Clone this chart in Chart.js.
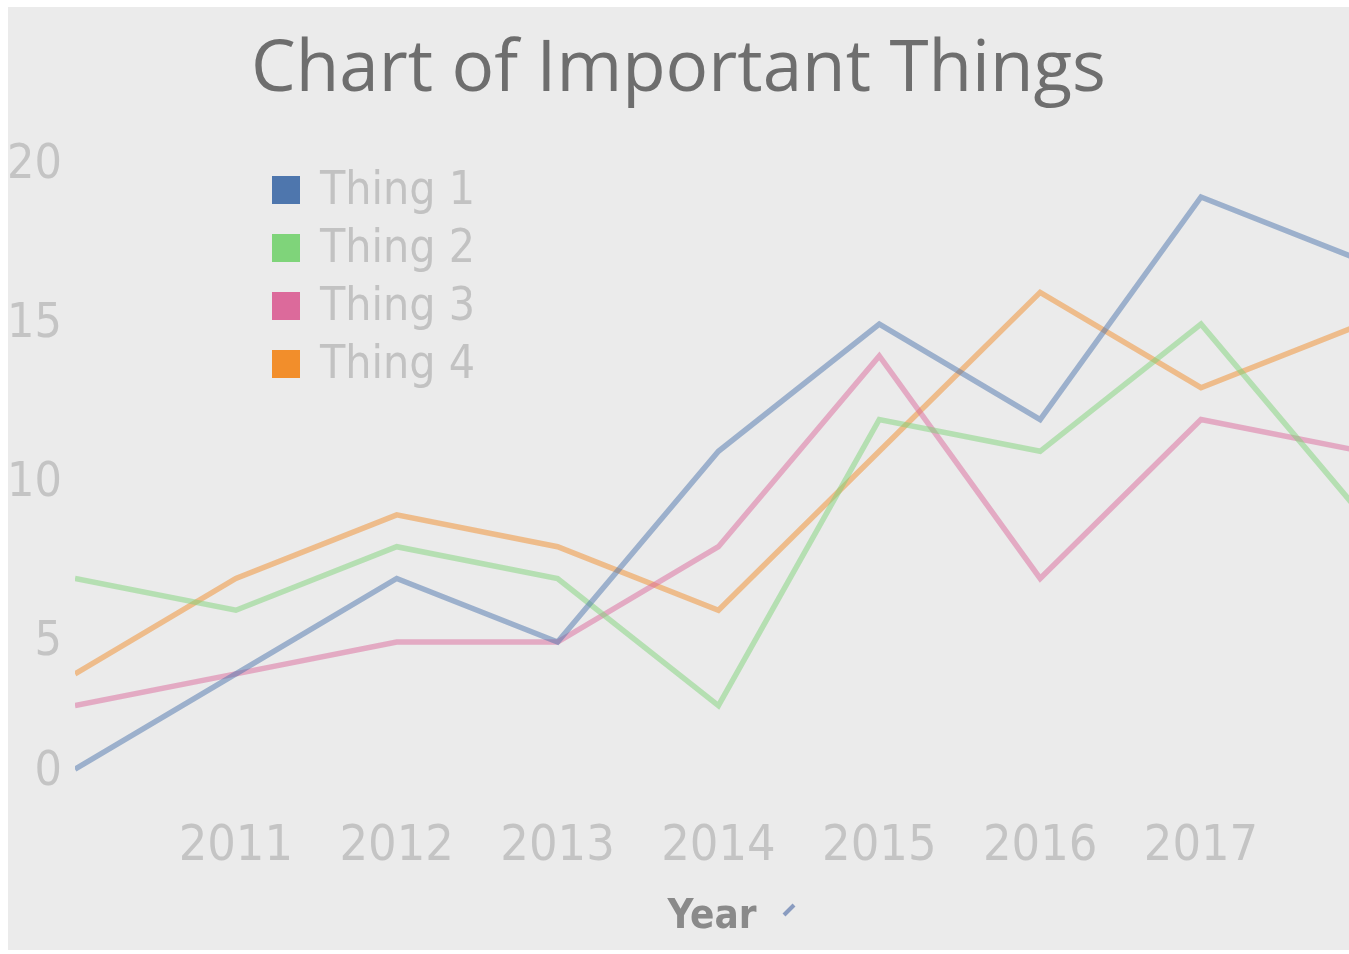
<!DOCTYPE html>
<html>
<head>
<meta charset="utf-8">
<script src="https://cdn.jsdelivr.net/npm/chart.js@4/dist/chart.umd.min.js"></script>
<style>
  html, body { margin: 0; padding: 0; background: #fff; overflow: hidden; }
  #wrap { position: absolute; left: 8px; top: 7px; width: 1341px; height: 943px; background: #ebebeb; }
  #chart { display: block; }
</style>
</head>
<body>
<div id="wrap"><canvas id="chart" width="1341" height="943"></canvas></div>
<script>
// ── Data ────────────────────────────────────────────────────────────────────
const years   = [2010, 2011, 2012, 2013, 2014, 2015, 2016, 2017, 2018];
const thing1  = [1, 4, 7, 5, 11, 15, 12, 19, 17];
const thing2  = [7, 6, 8, 7, 3, 12, 11, 15, 9];
const thing3  = [3, 4, 5, 5, 8, 14, 7, 12, 11];
const thing4  = [4, 7, 9, 8, 6, 11, 16, 13, 15];
const seriesNames  = ['Thing 1', 'Thing 2', 'Thing 3', 'Thing 4'];
const seriesColors = ['#4e76ad', '#7fd47a', '#dc6a9b', '#f28e2b'];
const xTicks = [2011, 2012, 2013, 2014, 2015, 2016, 2017];
const yTicks = [0, 5, 10, 15, 20];

const narrow = '"Liberation Sans Narrow", "DejaVu Sans Condensed", "Roboto Condensed", sans-serif';

function fade(hex, a) {
  const n = parseInt(hex.slice(1), 16);
  return `rgba(${n >> 16},${(n >> 8) & 255},${n & 255},${a})`;
}

// Legend drawn inside the plot area, top-left
const insideLegend = {
  id: 'insideLegend',
  afterDraw(chart) {
    const { ctx, chartArea } = chart;
    ctx.save();
    chart.data.datasets.forEach((ds, i) => {
      const cy = 183 + i * 58;
      ctx.fillStyle = ds.legendColor;
      ctx.fillRect(264, cy - 14, 28, 28);
      ctx.fillStyle = '#c2c2c2';
      ctx.font = `46px ${narrow}`;
      ctx.textBaseline = 'middle';
      ctx.fillText(ds.label, 312, cy + 2);
    });
    // little sort mark next to the axis title
    const mx = (chartArea.left + chartArea.right) / 2 + 72;
    ctx.strokeStyle = '#8a9cc0';
    ctx.lineWidth = 4;
    ctx.beginPath();
    ctx.moveTo(mx, 908);
    ctx.lineTo(mx + 10, 898);
    ctx.stroke();
    ctx.restore();
  },
};

const lists = [thing1, thing2, thing3, thing4];

new Chart(document.getElementById('chart'), {
  type: 'line',
  data: {
    datasets: lists.map((vals, i) => ({
      label: seriesNames[i],
      data: years.map((y, j) => ({ x: y, y: vals[j] })),
      borderColor: fade(seriesColors[i], 0.5),
      legendColor: seriesColors[i],
      borderWidth: 5.5,
      pointRadius: 0,
      tension: 0,
      fill: false,
    })),
  },
  plugins: [insideLegend],
  options: {
    responsive: false,
    animation: false,
    layout: { padding: 0 },
    plugins: {
      legend: { display: false },
      tooltip: { enabled: false },
      title: {
        display: true,
        text: 'Chart of Important Things',
        color: '#6e6e6e',
        font: { family: '"Open Sans", sans-serif', size: 71, weight: 'normal', lineHeight: 1.2 },
        padding: { top: 21, bottom: 52 },
      },
    },
    scales: {
      x: {
        type: 'linear',
        min: 2010,
        max: 2017.92,
        grid: { display: false, drawTicks: false },
        border: { display: false },
        afterFit(scale) { scale.height = 149; },
        afterBuildTicks(scale) { scale.ticks = xTicks.map(v => ({ value: v })); },
        ticks: {
          autoSkip: false,
          maxRotation: 0,
          padding: 16,
          color: '#c4c4c4',
          font: { family: narrow, size: 50 },
          callback: v => String(v),
        },
        title: {
          display: true,
          text: 'Year',
          color: '#8a8a8a',
          font: { family: narrow, size: 40, weight: 'bold' },
          padding: { top: 0, bottom: 8 },
        },
      },
      y: {
        min: 0,
        max: 20,
        grid: { display: false, drawTicks: false },
        border: { display: false },
        afterFit(scale) { scale.width = 67; },
        afterBuildTicks(scale) { scale.ticks = yTicks.map(v => ({ value: v })); },
        ticks: {
          padding: 13,
          color: '#c4c4c4',
          font: { family: narrow, size: 48 },
          // bottom label sits flush inside the axis, as in the original
          callback: v => (v === 0 ? ['0', ''] : String(v)),
        },
      },
    },
  },
});
</script>
</body>
</html>
